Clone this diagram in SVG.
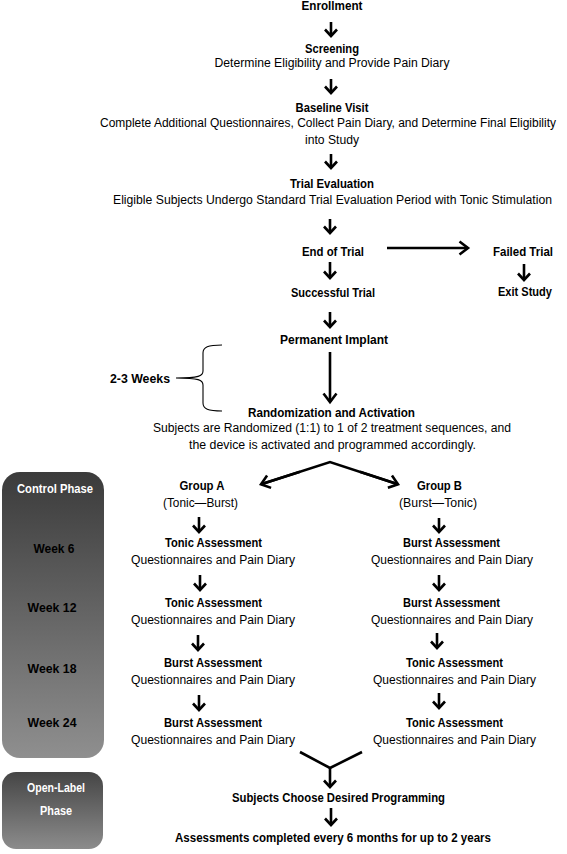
<svg xmlns="http://www.w3.org/2000/svg" width="567" height="854" viewBox="0 0 567 854">
<style>
text{font-family:"Liberation Sans",Arial,sans-serif;font-size:12px;text-anchor:middle;fill:#000}
.b{font-weight:bold}
.w{fill:#fff}
.ar{stroke:#000;stroke-width:2.6;fill:none;marker-end:url(#ah)}
.br{stroke:#000;stroke-width:2.6;fill:none;marker-end:url(#ahb)}
.ln{stroke:#000;stroke-width:2.6;fill:none}
.brace{stroke:#000;stroke-width:1.1;fill:none}
</style>
<defs>
<marker id="ah" markerUnits="userSpaceOnUse" markerWidth="16" markerHeight="16" refX="8" refY="8" orient="auto">
<path d="M1.5,2 L8,8 L1.5,14" fill="none" stroke="#000" stroke-width="2.6"/>
</marker>
<marker id="ahb" markerUnits="userSpaceOnUse" markerWidth="20" markerHeight="20" refX="10" refY="10" orient="auto">
<path d="M1.5,3.5 L10,10 L1.5,16.5" fill="none" stroke="#000" stroke-width="2.6"/>
</marker>
<linearGradient id="gp" x1="0" y1="0" x2="0" y2="1">
<stop offset="0" stop-color="#3b3b3b"/>
<stop offset="1" stop-color="#8f8f8f"/>
</linearGradient>
<linearGradient id="gp2" x1="0" y1="0" x2="0" y2="1">
<stop offset="0" stop-color="#454545"/>
<stop offset="1" stop-color="#8c8c8c"/>
</linearGradient>
</defs>

<g id="phase-control">
<rect x="2" y="472" width="102" height="286" rx="18" fill="url(#gp)"/>
<text class="b w" x="55" y="493" textLength="76" lengthAdjust="spacingAndGlyphs">Control Phase</text>
<text class="b" x="54" y="553" textLength="41" lengthAdjust="spacingAndGlyphs">Week 6</text>
<text class="b" x="52" y="612" textLength="49" lengthAdjust="spacingAndGlyphs">Week 12</text>
<text class="b" x="52" y="673" textLength="49" lengthAdjust="spacingAndGlyphs">Week 18</text>
<text class="b" x="52" y="727" textLength="49" lengthAdjust="spacingAndGlyphs">Week 24</text>
</g>
<g id="phase-open">
<rect x="2" y="772" width="101" height="77" rx="14" fill="url(#gp2)"/>
<text class="b w" x="56" y="792" textLength="58" lengthAdjust="spacingAndGlyphs">Open-Label</text>
<text class="b w" x="56" y="815" textLength="32" lengthAdjust="spacingAndGlyphs">Phase</text>
</g>

<g id="enrollment"><text class="b" x="332" y="10" textLength="61" lengthAdjust="spacingAndGlyphs">Enrollment</text></g>
<g id="screening">
<text class="b" x="332" y="53" textLength="54" lengthAdjust="spacingAndGlyphs">Screening</text>
<text x="332" y="67" textLength="235" lengthAdjust="spacingAndGlyphs">Determine Eligibility and Provide Pain Diary</text>
</g>
<g id="baseline">
<text class="b" x="332" y="112" textLength="73" lengthAdjust="spacingAndGlyphs">Baseline Visit</text>
<text x="328" y="127" textLength="456" lengthAdjust="spacingAndGlyphs">Complete Additional Questionnaires, Collect Pain Diary, and Determine Final Eligibility</text>
<text x="332" y="144" textLength="54" lengthAdjust="spacingAndGlyphs">into Study</text>
</g>
<g id="trial-evaluation">
<text class="b" x="332" y="188" textLength="84" lengthAdjust="spacingAndGlyphs">Trial Evaluation</text>
<text x="332.5" y="204" textLength="439" lengthAdjust="spacingAndGlyphs">Eligible Subjects Undergo Standard Trial Evaluation Period with Tonic Stimulation</text>
</g>
<g id="end-of-trial"><text class="b" x="333" y="256" textLength="62" lengthAdjust="spacingAndGlyphs">End of Trial</text></g>
<g id="failed-trial"><text class="b" x="523" y="256" textLength="60" lengthAdjust="spacingAndGlyphs">Failed Trial</text></g>
<g id="exit-study"><text class="b" x="525" y="296" textLength="54" lengthAdjust="spacingAndGlyphs">Exit Study</text></g>
<g id="successful-trial"><text class="b" x="333" y="297" textLength="84" lengthAdjust="spacingAndGlyphs">Successful Trial</text></g>
<g id="permanent-implant"><text class="b" x="334" y="344" textLength="108" lengthAdjust="spacingAndGlyphs">Permanent Implant</text></g>
<g id="weeks-label">
<text class="b" x="140" y="383" textLength="60" lengthAdjust="spacingAndGlyphs">2-3 Weeks</text>
<path class="brace" d="M222,345 C208,345 203,347 203,353 L203,371 C203,376 199,378 176,378 C199,378 203,380 203,385 L203,403 C203,409 208,411 222,411"/>
</g>
<g id="randomization">
<text class="b" x="331.5" y="417" textLength="167" lengthAdjust="spacingAndGlyphs">Randomization and Activation</text>
<text x="332" y="432" textLength="358" lengthAdjust="spacingAndGlyphs">Subjects are Randomized (1:1) to 1 of 2 treatment sequences, and</text>
<text x="332.5" y="449" textLength="287" lengthAdjust="spacingAndGlyphs">the device is activated and programmed accordingly.</text>
</g>

<g id="group-a">
<text class="b" x="202" y="490" textLength="45" lengthAdjust="spacingAndGlyphs">Group A</text>
<text x="200.5" y="507" textLength="75" lengthAdjust="spacingAndGlyphs">(Tonic—Burst)</text>
</g>
<g id="a-week6">
<text class="b" x="213.5" y="547" textLength="97" lengthAdjust="spacingAndGlyphs">Tonic Assessment</text>
<text x="213" y="564" textLength="164" lengthAdjust="spacingAndGlyphs">Questionnaires and Pain Diary</text>
</g>
<g id="a-week12">
<text class="b" x="213.5" y="607" textLength="97" lengthAdjust="spacingAndGlyphs">Tonic Assessment</text>
<text x="213" y="624" textLength="164" lengthAdjust="spacingAndGlyphs">Questionnaires and Pain Diary</text>
</g>
<g id="a-week18">
<text class="b" x="213" y="667" textLength="98" lengthAdjust="spacingAndGlyphs">Burst Assessment</text>
<text x="213" y="684" textLength="164" lengthAdjust="spacingAndGlyphs">Questionnaires and Pain Diary</text>
</g>
<g id="a-week24">
<text class="b" x="213" y="727" textLength="98" lengthAdjust="spacingAndGlyphs">Burst Assessment</text>
<text x="213" y="744" textLength="164" lengthAdjust="spacingAndGlyphs">Questionnaires and Pain Diary</text>
</g>

<g id="group-b">
<text class="b" x="439.5" y="490" textLength="45" lengthAdjust="spacingAndGlyphs">Group B</text>
<text x="438" y="507" textLength="78" lengthAdjust="spacingAndGlyphs">(Burst—Tonic)</text>
</g>
<g id="b-week6">
<text class="b" x="451.5" y="547" textLength="97" lengthAdjust="spacingAndGlyphs">Burst Assessment</text>
<text x="452" y="564" textLength="162" lengthAdjust="spacingAndGlyphs">Questionnaires and Pain Diary</text>
</g>
<g id="b-week12">
<text class="b" x="451.5" y="607" textLength="97" lengthAdjust="spacingAndGlyphs">Burst Assessment</text>
<text x="452" y="624" textLength="162" lengthAdjust="spacingAndGlyphs">Questionnaires and Pain Diary</text>
</g>
<g id="b-week18">
<text class="b" x="454.5" y="667" textLength="97" lengthAdjust="spacingAndGlyphs">Tonic Assessment</text>
<text x="454.5" y="684" textLength="163" lengthAdjust="spacingAndGlyphs">Questionnaires and Pain Diary</text>
</g>
<g id="b-week24">
<text class="b" x="454.5" y="727" textLength="97" lengthAdjust="spacingAndGlyphs">Tonic Assessment</text>
<text x="454.5" y="744" textLength="163" lengthAdjust="spacingAndGlyphs">Questionnaires and Pain Diary</text>
</g>

<g id="choose">
<text class="b" x="338.5" y="802" textLength="213" lengthAdjust="spacingAndGlyphs">Subjects Choose Desired Programming</text>
</g>
<g id="assessments">
<text class="b" x="333" y="842" textLength="316" lengthAdjust="spacingAndGlyphs">Assessments completed every 6 months for up to 2 years</text>
</g>

<g id="connectors">
<line class="ar" x1="331" y1="22" x2="331" y2="36"/>
<line class="ar" x1="331" y1="79" x2="331" y2="93"/>
<line class="ar" x1="331" y1="154" x2="331" y2="168"/>
<line class="ar" x1="330" y1="219" x2="330" y2="233"/>
<line class="br" x1="387" y1="248" x2="468" y2="248"/>
<line class="ar" x1="330" y1="262" x2="330" y2="278"/>
<line class="ar" x1="524" y1="264" x2="524" y2="280"/>
<line class="ar" x1="330" y1="312" x2="330" y2="327"/>
<line class="br" x1="330" y1="352" x2="330" y2="402"/>
<path class="ln" d="M262,484 L330,462 L397,484"/>
<line class="br" x1="300" y1="471.7" x2="261" y2="484.3"/>
<line class="br" x1="360" y1="471.8" x2="398" y2="484.3"/>
<line class="ar" x1="199" y1="517" x2="199" y2="532"/>
<line class="ar" x1="200" y1="575" x2="200" y2="590"/>
<line class="ar" x1="198" y1="635" x2="198" y2="650"/>
<line class="ar" x1="199" y1="695" x2="199" y2="710"/>
<line class="ar" x1="439" y1="518" x2="439" y2="532"/>
<line class="ar" x1="439" y1="575" x2="439" y2="590"/>
<line class="ar" x1="437" y1="633" x2="437" y2="648"/>
<line class="ar" x1="439" y1="693" x2="439" y2="708"/>
<path class="ln" d="M300,752 L330,768 L362,752"/>
<line class="ar" x1="330" y1="768" x2="330" y2="787"/>
<line class="ar" x1="331" y1="808" x2="331" y2="825"/>
</g>
</svg>
